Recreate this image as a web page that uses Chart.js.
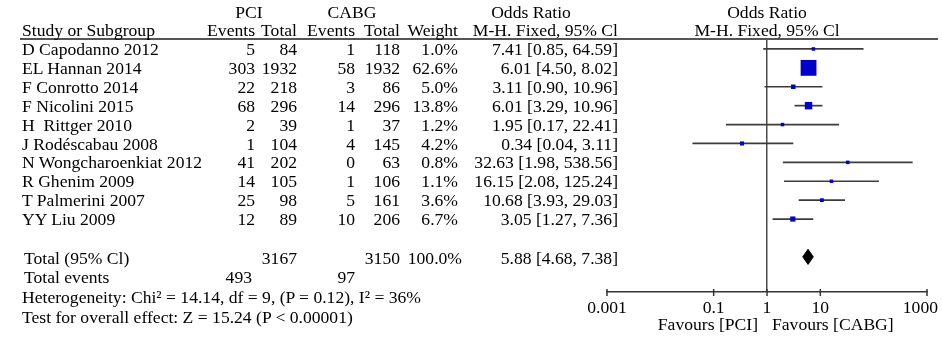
<!DOCTYPE html>
<html><head><meta charset="utf-8">
<script src="https://cdn.jsdelivr.net/npm/chart.js@4/dist/chart.umd.min.js"></script>
<style>
html,body{margin:0;padding:0;background:#fff;}
#wrap{position:relative;width:942px;height:343px;overflow:hidden;font-family:"Liberation Serif","Times New Roman",serif;font-size:17.6px;color:#000;}
#wrap canvas{position:absolute;left:0;top:0;}
.t{position:absolute;white-space:pre;line-height:20px;height:20px;}
#hline{position:absolute;left:20px;top:37.5px;width:918px;height:2px;background:#555;}
</style></head>
<body><div id="wrap"><canvas id="c" width="942" height="343"></canvas><div id="hline"></div></div>
<script>
// ---- data ----
const studies = ["D Capodanno 2012","EL Hannan 2014","F Conrotto 2014","F Nicolini 2015","H  Rittger 2010","J Rodéscabau 2008","N Wongcharoenkiat 2012","R Ghenim 2009","T Palmerini 2007","YY Liu 2009"];
const pciEvents = [5,303,22,68,2,1,41,14,25,12];
const pciTotal = [84,1932,218,296,39,104,202,105,98,89];
const cabgEvents = [1,58,3,14,1,4,0,1,5,10];
const cabgTotal = [118,1932,86,296,37,145,63,106,161,206];
const weights = [1.0,62.6,5.0,13.8,1.2,4.2,0.8,1.1,3.6,6.7];
const orValues = [7.41,6.01,3.11,6.01,1.95,0.34,32.63,16.15,10.68,3.05];
const ciLow = [0.85,4.50,0.90,3.29,0.17,0.04,1.98,2.08,3.93,1.27];
const ciHigh = [64.59,8.02,10.96,10.96,22.41,3.11,538.56,125.24,29.03,7.36];
const totalPci = 3167, totalCabg = 3150, totalWeight = 100.0;
const totalOr = 5.88, totalLow = 4.68, totalHigh = 7.38;
const eventsPci = 493, eventsCabg = 97;
const axisTicks = [0.001, 0.1, 1, 10, 1000];
const heterogeneityText = "Heterogeneity: Chi\u00B2 = 14.14, df = 9, (P = 0.12), I\u00B2 = 36%";
const overallText = "Test for overall effect: Z = 15.24 (P < 0.00001)";

// ---- text table (HTML) ----
const wrap = document.getElementById('wrap');
function place(text, x, yc, align){
  const d = document.createElement('div');
  d.className = 't';
  d.textContent = text;
  d.style.top = (yc - 10) + 'px';
  if (align === 'r'){ d.style.left = (x - 300) + 'px'; d.style.width = '300px'; d.style.textAlign = 'right'; }
  else if (align === 'c'){ d.style.left = (x - 150) + 'px'; d.style.width = '300px'; d.style.textAlign = 'center'; }
  else { d.style.left = x + 'px'; }
  wrap.appendChild(d);
}
const fmtCI = (o,l,h) => o.toFixed(2) + ' [' + l.toFixed(2) + ', ' + h.toFixed(2) + ']';
const rowY = i => 49 + i * 18.9;
const col = {name:22, pe:255, pt:297, ce:355, ct:400, w:458, or:618};

place('PCI', 249, 12, 'c');
place('CABG', 352, 12, 'c');
place('Odds Ratio', 531, 12, 'c');
place('Odds Ratio', 767, 12, 'c');
place('Study or Subgroup', col.name, 29.5, 'l');
place('Events', col.pe, 29.5, 'r');
place('Total', col.pt, 29.5, 'r');
place('Events', col.ce, 29.5, 'r');
place('Total', col.ct, 29.5, 'r');
place('Weight', col.w, 29.5, 'r');
place('M-H. Fixed, 95% Cl', col.or, 29.5, 'r');
place('M-H. Fixed, 95% Cl', 767, 29.5, 'c');

studies.forEach((s,i)=>{
  const y = rowY(i);
  place(s, col.name, y, 'l');
  place(String(pciEvents[i]), col.pe, y, 'r');
  place(String(pciTotal[i]), col.pt, y, 'r');
  place(String(cabgEvents[i]), col.ce, y, 'r');
  place(String(cabgTotal[i]), col.ct, y, 'r');
  place(weights[i].toFixed(1) + '%', col.w, y, 'r');
  place(fmtCI(orValues[i], ciLow[i], ciHigh[i]), col.or, y, 'r');
});
const yT = rowY(11) + 1;
place('Total (95% Cl)', 24, yT, 'l');
place(String(totalPci), col.pt, yT, 'r');
place(String(totalCabg), col.ct, yT, 'r');
place(totalWeight.toFixed(1) + '%', 462, yT, 'r');
place(fmtCI(totalOr, totalLow, totalHigh), col.or, yT, 'r');
place('Total events', 24, 277, 'l');
place(String(eventsPci), 252, 277, 'r');
place(String(eventsCabg), col.ce, 277, 'r');
place(heterogeneityText, 22, 297, 'l');
place(overallText, 22, 317, 'l');
place('Favours [PCI]', 758, 324, 'r');
place('Favours [CABG]', 772, 324, 'l');

// ---- chart ----
const datasets = [];
orValues.forEach((v,i)=>{
  datasets.push({type:'line', data:[{x:ciLow[i], y:i},{x:ciHigh[i], y:i}],
    borderColor:'#3c3c3c', borderWidth:1.7, pointRadius:0, fill:false, order:2});
});
datasets.push({type:'scatter', data: orValues.map((v,i)=>({x:v, y:i})),
  pointStyle:'rect', pointRadius: weights.map(w => Math.max(3.5, 2*Math.sqrt(w)) / Math.SQRT2),
  pointBackgroundColor:'#0000c8', pointBorderWidth:0, pointBorderColor:'#0000c8', order:1});
datasets.push({type:'line', data:[{x:totalLow,y:11},{x:totalOr,y:10.6},{x:totalHigh,y:11},{x:totalOr,y:11.4},{x:totalLow,y:11}],
  borderColor:'#000', backgroundColor:'#000', fill:'shape', borderWidth:1, pointRadius:0, tension:0, order:0});

// tick marks that cross the axis line (drawn from the scale's own tick positions)
const crossTicks = {
  id:'crossTicks',
  afterDraw(chart){
    const s = chart.scales.x, ctx = chart.ctx, y = chart.chartArea.bottom;
    ctx.save(); ctx.strokeStyle = '#333'; ctx.lineWidth = 1.5;
    s.ticks.forEach(t => { const px = s.getPixelForValue(t.value);
      ctx.beginPath(); ctx.moveTo(px, y - 3); ctx.lineTo(px, y + 4); ctx.stroke(); });
    ctx.restore();
  }
};

new Chart(document.getElementById('c'), {
  type:'scatter',
  data:{datasets},
  plugins:[crossTicks],
  options:{
    responsive:false, animation:false, events:[],
    layout:{padding:{left:607, right:15, top:38, bottom:0}},
    plugins:{legend:{display:false}, tooltip:{enabled:false}},
    scales:{
      x:{type:'logarithmic', min:0.001, max:1000,
        afterBuildTicks: s => { s.ticks = axisTicks.map(v => ({value:v})); },
        afterFit: s => { s.height = 51; s.paddingLeft = 0; s.paddingRight = 0; },
        ticks:{autoSkip:false, maxRotation:0, padding:6, color:'#000',
          font:{family:'"Liberation Serif", "Times New Roman", serif', size:17.6},
          callback: (v, i, arr) => i === arr.length - 1 ? String(v) + '\u00A0\u00A0\u00A0' : String(v)},
        grid:{color: c => (c.tick && c.tick.value === 1) ? '#4a4a4a' : 'rgba(0,0,0,0)',
          lineWidth:1.5, drawTicks:false},
        border:{display:true, color:'#333', width:1.5}
      },
      y:{type:'linear', min:-0.58, max:12.86, reverse:true, display:false}
    }
  }
});
</script>
</body></html>
